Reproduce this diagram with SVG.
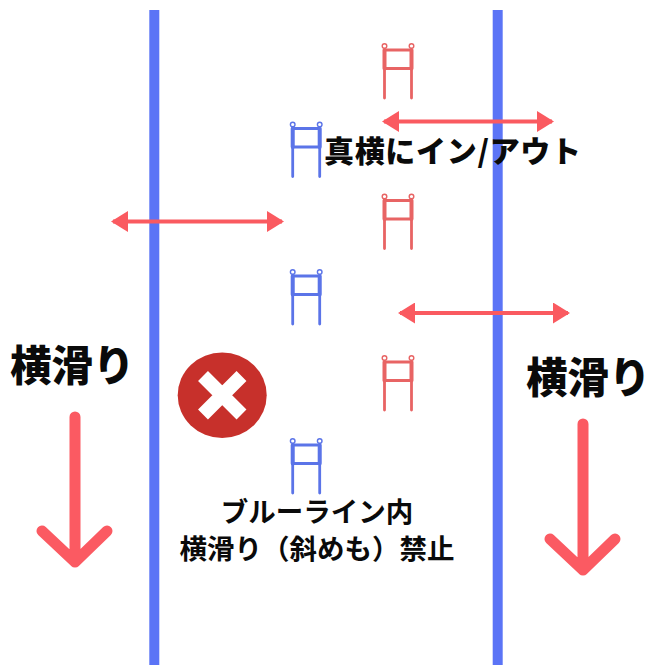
<svg xmlns="http://www.w3.org/2000/svg" width="651" height="665" viewBox="0 0 651 665">
<style>
.lane{stroke:#5b74f6;stroke-width:10;fill:none}
.g{fill:none;stroke-width:2.800;stroke-linecap:round}
.ring{stroke-width:1.400}
.red{stroke:#e86464}
.blue{stroke:#5b74e8}
.h{stroke:#fa5a60;stroke-width:4;fill:none}
.hd{fill:#fa5a60}
.big{stroke:#fb5a62;stroke-width:11;fill:none;stroke-linecap:round;stroke-linejoin:round}
text{font-family:"Noto Sans CJK JP","Noto Sans",sans-serif;font-weight:700;fill:#0a0a0a}
</style>
<defs>
<g id="gate">
<circle class="ring" cx="0" cy="0" r="2.300"/><circle class="ring" cx="27" cy="0" r="2.300"/>
<path d="M0 4V52M27 4V52M0 4H27M0 22.500H27"/>
<path d="M0 4V22.500M27 4V22.500" style="stroke-width:4"/>
</g>
<marker id="ah" viewBox="0 0 17 21" refX="15" refY="10.500" markerWidth="17" markerHeight="21" markerUnits="userSpaceOnUse" orient="auto-start-reverse"><path class="hd" d="M0 0L17 10.500L0 21Z"/></marker>
</defs>
<rect width="651" height="665" fill="#ffffff"/>
<g id="lane-left"><line class="lane" x1="154.300" y1="10" x2="154.300" y2="665"/></g>
<g id="lane-right"><line class="lane" x1="497.700" y1="10" x2="497.700" y2="665"/></g>
<g id="gate-r1"><use href="#gate" class="g red" x="384.500" y="46"/></g>
<g id="gate-r2"><use href="#gate" class="g red" x="384.500" y="196.500"/></g>
<g id="gate-r3"><use href="#gate" class="g red" x="384.500" y="358"/></g>
<g id="gate-b1"><use href="#gate" class="g blue" x="292.700" y="124.500"/></g>
<g id="gate-b2"><use href="#gate" class="g blue" x="292.700" y="272"/></g>
<g id="gate-b3"><use href="#gate" class="g blue" x="292.700" y="441"/></g>
<g id="connectors">
<line class="h" x1="384" y1="121.500" x2="552" y2="121.500" marker-start="url(#ah)" marker-end="url(#ah)"/>
<line class="h" x1="113" y1="221.500" x2="282" y2="221.500" marker-start="url(#ah)" marker-end="url(#ah)"/>
<line class="h" x1="400" y1="313" x2="568" y2="313" marker-start="url(#ah)" marker-end="url(#ah)"/>
<path class="big" d="M75 417V562M42 531L75 562L107 531"/>
<path class="big" d="M583 424V570M550 539L583 570L615 539"/>
</g>
<g id="no-mark">
<ellipse cx="222.200" cy="395.200" rx="44.500" ry="42.800" fill="#c7302b"/>
<path d="M203 376L241.500 414.500M241.500 376L203 414.500" stroke="#ffffff" stroke-width="14" fill="none"/>
</g>
<g id="label-inout"><text x="324" y="161.500" font-size="30" textLength="257" lengthAdjust="spacing" style="font-weight:900">真横にイン/アウト</text></g>
<g id="label-left"><text x="10" y="381" font-size="41.500" style="font-weight:900">横滑り</text></g>
<g id="label-right"><text x="526" y="393" font-size="41.500" style="font-weight:900">横滑り</text></g>
<g id="label-ban">
<text x="317" y="522" font-size="27.500" text-anchor="middle">ブルーライン内</text>
<text x="317" y="559" font-size="27.500" text-anchor="middle">横滑り（斜めも）禁止</text>
</g>
</svg>
